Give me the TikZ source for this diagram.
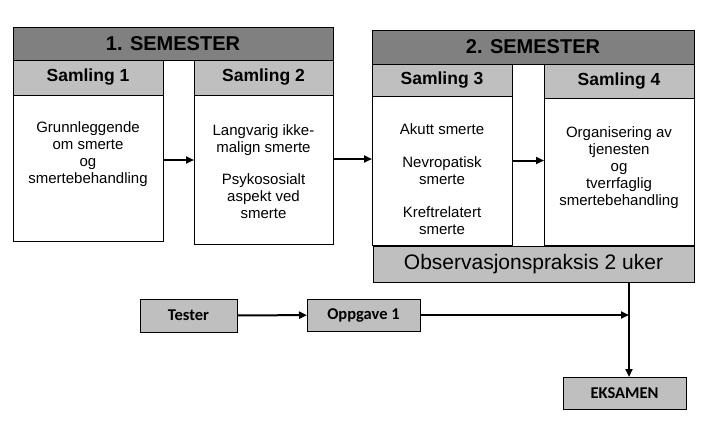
\documentclass[tikz,border=0pt]{standalone}
\usepackage{fontspec}
\setmainfont{Liberation Sans}
\newfontfamily\calibri{Carlito}
\usetikzlibrary{arrows.meta,positioning}

\begin{document}
\begin{tikzpicture}
      [
        x = 1pt, y = -1pt,
        node distance = 0pt,
        TitleBlock/.style={draw, fill=black!50, anchor=north west, outer sep=0pt, font=\bfseries\fontsize{20}{24}\selectfont},
        HeadBlock/.style={draw, fill=black!25, outer sep=0pt, font=\bfseries\fontsize{17.5}{21}\selectfont},
        BodyBlock/.style={draw, fill=white, outer sep=0pt},
        BodyText/.style={align=center, inner sep=0pt, font=\fontsize{15}{17}\selectfont},
        TaskBlock/.style={draw, fill=black!25, anchor=north west, outer sep=0pt, font=\calibri\bfseries\fontsize{16.5}{20}\selectfont},
        flow/.style={line width=2pt, -{Triangle[length=8pt, width=7pt]}},
      ]
      \useasboundingbox (0,0) rectangle (706,423);

      % 1. semester
      \node [TitleBlock, minimum width=320pt, minimum height=33pt] (sem1) at (13,27) {1. SEMESTER};
      \node [HeadBlock, anchor=north west, minimum width=150pt, minimum height=35pt] (s1head) at (sem1.south west) {Samling 1};
      \node [BodyBlock, below=of s1head, minimum width=150pt, minimum height=146pt] (s1body) {};
      \node [BodyText, below=26.5pt of s1body.north] {Grunnleggende\\om smerte\\og\\smertebehandling};

      \node [HeadBlock, anchor=north east, minimum width=139pt, minimum height=35pt] (s2head) at (sem1.south east) {Samling 2};
      \node [BodyBlock, below=of s2head, minimum width=139pt, minimum height=149pt] (s2body) {};
      \node [BodyText, below=29pt of s2body.north] {Langvarig ikke-\\malign smerte\\[15pt]Psykososialt\\aspekt ved\\smerte};

      % 2. semester
      \node [TitleBlock, minimum width=322pt, minimum height=34pt] (sem2) at (372,30) {2. SEMESTER};
      \node [HeadBlock, anchor=north west, minimum width=140pt, minimum height=32pt] (s3head) at (sem2.south west) {Samling 3};
      \node [BodyBlock, below=of s3head, minimum width=140pt, minimum height=149pt] (s3body) {};
      \node [BodyText, below=27pt of s3body.north] {Akutt smerte\\[16pt]Nevropatisk\\smerte\\[16pt]Kreftrelatert\\smerte};

      \node [HeadBlock, anchor=north east, minimum width=150pt, minimum height=34pt] (s4head) at (sem2.south east) {Samling 4};
      \node [BodyBlock, below=of s4head, minimum width=150pt, minimum height=147pt] (s4body) {};
      \node [BodyText, below=28pt of s4body.north] {Organisering av\\tjenesten\\og\\tverrfaglig\\smertebehandling};

      \node [draw, fill=black!25, anchor=north west, outer sep=0pt, minimum width=321pt, minimum height=36pt,
             font=\fontsize{21}{25}\selectfont] (obs) at (373,246) {Observasjonspraksis 2 uker};

      \draw [flow] ([yshift=8pt]s1body.east) -- ([yshift=8pt]s1body.east -| s2body.west);
      \draw [flow] ([yshift=10.5pt]s2body.east) -- ([yshift=10.5pt]s2body.east -| s3body.west);
      \draw [flow] ([yshift=10pt]s3body.east) -- ([yshift=10pt]s3body.east -| s4body.west);

      % oppgaver og eksamen
      \node [TaskBlock, minimum width=97pt, minimum height=33pt] (tester) at (140,299) {Tester};
      \node [TaskBlock, minimum width=113pt, minimum height=32pt] (oppgave) at (307,299) {Oppgave 1};
      \node [TaskBlock, minimum width=123pt, minimum height=32pt] (eksamen) at (563,377) {EKSAMEN};
      \coordinate (join) at (629,315);

      \draw [flow] (tester) -- (oppgave);
      \draw [flow] (oppgave) -- (join);
      \draw [flow] (obs.south -| join) -- (eksamen.north -| join);
    \end{tikzpicture}
\end{document}
